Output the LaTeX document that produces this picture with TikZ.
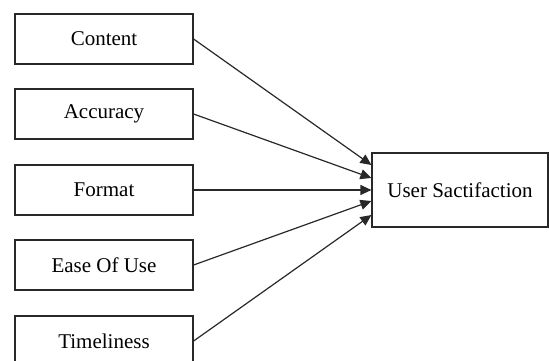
\documentclass[tikz,border=0pt]{standalone}
\usepackage{fontspec}
\setmainfont{Liberation Serif}
\usetikzlibrary{arrows.meta}

\tikzset{every picture/.style={line width=0.6pt}}
\tikzset{
	factor/.style={draw={rgb, 255:red, 40; green, 40; blue, 40}, minimum width=89pt, minimum height=25pt, inner sep=0pt, font=\fontsize{10.5}{12}\selectfont},
	result/.style={factor, minimum width=88pt, minimum height=37pt},
	link/.style={draw={rgb, 255:red, 40; green, 40; blue, 40}, -{Triangle[length=5.5pt,width=5pt]}}}

\begin{document}
\begin{tikzpicture}[x=0.5pt,y=0.5pt,yscale=-1]
	%set diagram at 549 x 360
	\clip (0,0) rectangle (549,360);
	
	% Factor boxes
	\node [factor] (content) at (104,39) {Content};
	\node [factor] (accuracy) at (104,114) {Accuracy};
	\node [factor] (format) at (104,190) {Format};
	\node [factor] (ease) at (104,265) {Ease Of Use};
	\node [factor] (timeliness) at (104,341) {Timeliness};
	
	% Outcome box
	\node [result] (satisfaction) at (460,190) {User Sactifaction};
	
	% Arrow ends on the left side
	\coordinate (in1) at ([yshift=-12.5pt]satisfaction.west);
	\coordinate (in2) at ([yshift=-6pt]satisfaction.west);
	\coordinate (in3) at (satisfaction.west);
	\coordinate (in4) at ([yshift=5.5pt]satisfaction.west);
	\coordinate (in5) at ([yshift=12.5pt]satisfaction.west);
	
	% Straight Lines
	\draw [link] (content.east) -- (in1);
	\draw [link] (accuracy.east) -- (in2);
	\draw [link] (format.east) -- (in3);
	\draw [link] (ease.east) -- (in4);
	\draw [link] (timeliness.east) -- (in5);
	
\end{tikzpicture}
\end{document}
